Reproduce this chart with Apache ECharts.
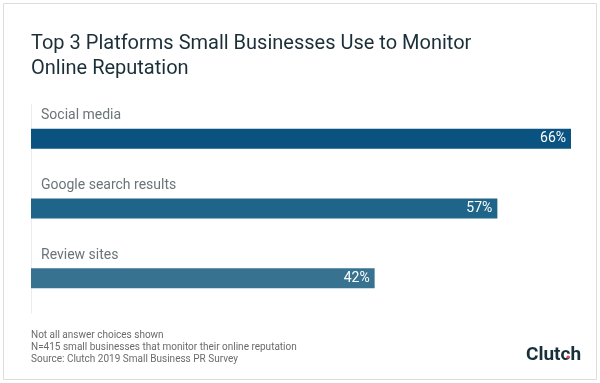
<!DOCTYPE html>
<html><head><meta charset="utf-8">
<script src="https://cdn.jsdelivr.net/npm/echarts@6/dist/echarts.min.js"></script>
<style>html,body{margin:0;padding:0;background:#fff}#c{width:600px;height:383px}</style>
</head><body><div id="c"></div>
<script>
const categories = ['Social media', 'Google search results', 'Review sites'];
const values = [66, 57, 42];
const barColors = ['#0a5380', '#1f6489', '#377391'];
const footnotes = ['Not all answer choices shown', 'N=415 small businesses that monitor their online reputation', 'Source: Clutch 2019 Small Business PR Survey'];

const chart = echarts.init(document.getElementById('c'), null, {renderer: 'canvas'});
const F = 'Roboto, "Noto Sans", sans-serif';
chart.setOption({
  animation: false,
  title: {
    text: 'Top 3 Platforms Small Businesses Use to Monitor\nOnline Reputation',
    left: 31, top: 31, padding: 0,
    textStyle: {fontFamily: F, fontSize: 20, fontWeight: 'normal', color: '#1b2f38', lineHeight: 25}
  },
  grid: {left: 31, right: 29, top: 104, bottom: 70},
  xAxis: {type: 'value', min: 0, max: 66, show: false},
  yAxis: {
    type: 'category', data: categories, inverse: true,
    axisLine: {show: true, lineStyle: {color: '#ececec', width: 1}},
    axisTick: {show: false},
    axisLabel: {
      inside: true, margin: 10, verticalAlign: 'bottom', padding: [0, 0, 16, 0],
      fontFamily: F, fontSize: 14, color: '#6b7478'
    }
  },
  series: [{
    type: 'bar', barWidth: 20,
    data: values.map((v, i) => ({value: v, itemStyle: {color: barColors[i]}})),
    label: {show: true, position: 'insideRight', distance: 5, formatter: '{c}%', color: '#fff', fontFamily: F, fontSize: 14}
  }],
  graphic: [
    {type: 'rect', shape: {x: 3.5, y: 3.5, width: 593, height: 376}, style: {fill: null, stroke: '#dcdcdc', lineWidth: 1}},
    {type: 'text', left: 31, top: 329, style: {text: footnotes.join('\n'), font: '10px ' + F, fill: '#6b6b6b', lineHeight: 12}},
    {type: 'text', left: 526, top: 346, style: {text: 'Clutch', font: 'bold 19px ' + F, fill: '#17313b'}},
    {type: 'circle', shape: {cx: 568, cy: 357, r: 1.6}, style: {fill: '#e5484d'}}
  ]
});
</script></body></html>
